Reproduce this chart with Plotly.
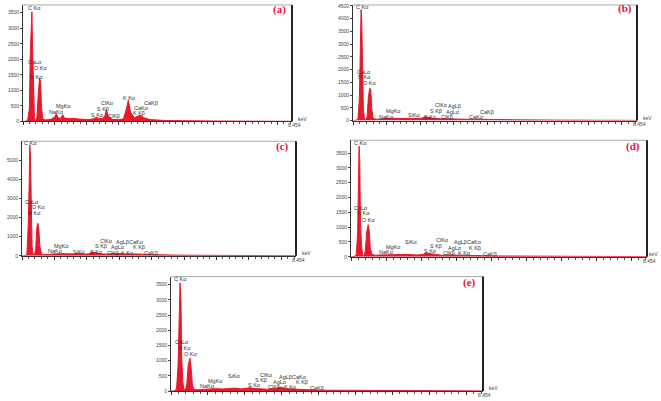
import plotly.graph_objects as go

W, H = 661, 401

# ---------------- data ----------------
energy_a = [0, 0.10, 0.15, 0.20, 0.23, 0.26, 0.28, 0.30, 0.33, 0.36, 0.40, 0.44, 0.48, 0.52, 0.55, 0.58, 0.62,
            0.70, 0.80, 0.90, 1.00, 1.05, 1.10, 1.18, 1.25, 1.30, 1.45, 1.60, 1.75, 1.90, 2.05, 2.20, 2.30,
            2.40, 2.50, 2.58, 2.62, 2.68, 2.80, 3.00, 3.15, 3.25, 3.31, 3.38, 3.50, 3.62, 3.70, 3.80, 4.00,
            4.50, 5.00, 6.00, 7.00, 8.454]
counts_a = [0, 10, 60, 400, 2250, 3300, 3530, 2400, 600, 100, 30, 150, 900, 1400, 1300, 500, 100,
            50, 60, 80, 150, 250, 120, 100, 220, 110, 90, 100, 80, 70, 60, 80, 130,
            100, 90, 200, 380, 180, 70, 60, 80, 400, 690, 300, 120, 180, 200, 120, 60,
            30, 20, 15, 10, 5]

energy_b = [0, 0.10, 0.15, 0.19, 0.22, 0.24, 0.26, 0.28, 0.31, 0.34, 0.38, 0.42, 0.46, 0.50, 0.53, 0.56, 0.60,
            0.70, 0.80, 1.00, 1.20, 1.40, 1.60, 1.75, 1.90, 2.05, 2.15, 2.25, 2.40, 2.60, 2.80, 3.00, 3.20,
            3.40, 3.70, 4.00, 5.00, 6.00, 7.00, 8.454]
counts_b = [0, 10, 80, 900, 2890, 4360, 3960, 1500, 400, 80, 30, 150, 950, 1270, 1200, 450, 80,
            50, 60, 70, 90, 80, 90, 100, 80, 90, 150, 120, 80, 70, 60, 70, 60,
            50, 50, 40, 25, 15, 10, 5]

energy_c = [0, 0.10, 0.15, 0.19, 0.22, 0.24, 0.26, 0.28, 0.31, 0.34, 0.38, 0.42, 0.46, 0.49, 0.52, 0.55, 0.60,
            0.70, 0.80, 1.00, 1.20, 1.40, 1.60, 1.75, 1.90, 2.05, 2.18, 2.30, 2.45, 2.60, 2.80, 3.00, 3.20,
            3.40, 3.60, 3.80, 4.00, 5.00, 6.00, 7.00, 8.454]
counts_c = [0, 10, 100, 1500, 3620, 5770, 5300, 2500, 500, 100, 40, 300, 1500, 1700, 1400, 500, 100,
            60, 80, 100, 110, 90, 100, 120, 90, 100, 200, 150, 100, 90, 110, 120, 100,
            110, 90, 80, 60, 30, 20, 15, 5]

energy_d = [0, 0.10, 0.15, 0.19, 0.21, 0.23, 0.25, 0.27, 0.30, 0.33, 0.37, 0.41, 0.45, 0.49, 0.52, 0.55, 0.60,
            0.70, 0.80, 1.00, 1.20, 1.40, 1.60, 1.75, 1.90, 2.05, 2.16, 2.28, 2.45, 2.60, 2.80, 3.00, 3.20,
            3.40, 3.70, 4.00, 5.00, 6.00, 7.00, 8.454]
counts_d = [0, 10, 80, 800, 2200, 3730, 3300, 1200, 400, 80, 30, 200, 850, 1080, 900, 300, 80,
            50, 60, 70, 80, 70, 80, 70, 60, 80, 130, 100, 60, 50, 60, 60, 50,
            50, 40, 30, 20, 15, 10, 5]

energy_e = [0, 0.10, 0.15, 0.19, 0.22, 0.245, 0.27, 0.29, 0.32, 0.35, 0.39, 0.43, 0.47, 0.515, 0.55, 0.58, 0.62,
            0.70, 0.80, 1.00, 1.20, 1.40, 1.60, 1.75, 1.90, 2.05, 2.14, 2.25, 2.45, 2.60, 2.80, 3.00, 3.10,
            3.30, 3.60, 4.00, 5.00, 6.00, 7.00, 8.454]
counts_e = [0, 10, 80, 800, 2300, 3560, 3000, 1100, 300, 60, 30, 250, 900, 1080, 700, 200, 60,
            40, 50, 70, 80, 70, 90, 100, 70, 80, 110, 90, 60, 60, 80, 130, 80,
            60, 50, 30, 20, 15, 10, 5]

labels_a = ["C Kα", "CaLα", "O Kα", "N Kα", "MgKα", "NaKα", "S Kα", "S Kβ", "ClKα", "ClKβ", "K Kα", "CaKα", "K Kβ", "CaKβ"]
label_e_a = [0.126, 0.126, 0.31, 0.19, 1.00, 0.79, 2.11, 2.29, 2.42, 2.64, 3.11, 3.46, 3.43, 3.77]
label_c_a = [3650, 1920, 1730, 1420, 500, 320, 210, 410, 590, 190, 760, 450, 270, 580]

labels_b = ["C Kα", "CaLα", "N Kα", "O Kα", "MgKα", "NaKα", "SiKα", "S Kα", "S Kβ", "ClKα", "AgLβ", "AgLα", "ClKβ", "CaKα", "CaKβ"]
label_e_b = [0.06, 0.09, 0.12, 0.27, 0.95, 0.74, 1.61, 2.08, 2.26, 2.41, 2.80, 2.74, 2.59, 3.42, 3.75]
label_c_b = [4450, 1925, 1700, 1460, 385, 150, 230, 150, 385, 590, 560, 350, 140, 150, 350]

labels_c = ["C Kα", "CaLα", "O Kα", "N Kα", "MgKα", "NaKα", "SiKα", "S Kα", "S Kβ", "ClKα", "AgLβCaKα", "AgLα", "K Kβ", "ClKβ", "K Kα", "CaKβ"]
label_e_c = [0.03, 0.06, 0.28, 0.15, 0.96, 0.77, 1.54, 2.07, 2.22, 2.38, 2.87, 2.71, 3.39, 2.59, 3.02, 3.73]
label_c_c = [5870, 2800, 2540, 2240, 530, 250, 210, 200, 520, 790, 730, 460, 460, 140, 140, 150]

labels_d = ["C Kα", "CaLα", "N Kα", "O Kα", "SiKα", "MgKα", "NaKα", "ClKα", "AgLβCaKα", "S Kβ", "AgLα", "K Kβ", "S Kα", "ClKβ", "K Kα", "CaKβ"]
label_e_d = [0.06, 0.06, 0.14, 0.29, 1.51, 0.97, 0.77, 2.40, 2.91, 2.23, 2.74, 3.34, 2.06, 2.60, 3.03, 3.74]
label_c_d = [3840, 1660, 1465, 1255, 510, 330, 160, 560, 490, 360, 310, 310, 190, 120, 120, 110]

labels_e = ["C Kα", "CaLα", "N Kα", "O Kα", "SiKα", "MgKα", "NaKα", "ClKα", "AgLβCaKα", "S Kβ", "AgLα", "K Kβ", "S Kα", "ClKβ", "K Kα", "CaKβ"]
label_e_e = [0.05, 0.08, 0.16, 0.33, 1.52, 0.98, 0.76, 2.38, 2.90, 2.25, 2.74, 3.36, 2.06, 2.60, 3.04, 3.74]
label_c_e = [3700, 1600, 1430, 1225, 490, 335, 160, 530, 460, 360, 300, 300, 190, 120, 120, 110]

panel_names = ["(a)", "(b)", "(c)", "(d)", "(e)"]
x_max = 8.454
y_max = [3750, 4540, 5980, 3930, 3770]
y_dtick = [500, 500, 1000, 500, 500]

# ---------------- layout geometry (pixels) ----------------
boxes = [(23, 292, 3, 121), (353, 637, 3, 120), (22, 296, 141, 257), (351, 647, 140, 258), (171, 483, 278, 394)]
panel_lab_pos = [(279, 8), (625, 7), (282, 146), (633, 146), (469, 284)]

spectra = [(energy_a, counts_a), (energy_b, counts_b), (energy_c, counts_c), (energy_d, counts_d), (energy_e, counts_e)]
peak_labels = [(labels_a, label_e_a, label_c_a), (labels_b, label_e_b, label_c_b), (labels_c, label_e_c, label_c_c),
               (labels_d, label_e_d, label_c_d), (labels_e, label_e_e, label_c_e)]

RED = "#e8192c"
FONT = "Liberation Sans"

fig = go.Figure()
annotations = []
shapes = []
layout = {}

for i in range(5):
    n = "" if i == 0 else str(i + 1)
    xa, ya = "x" + n, "y" + n
    l, r, t, b = boxes[i]
    ex, cy = spectra[i]
    fig.add_trace(go.Scatter(x=ex, y=cy, xaxis=xa, yaxis=ya, mode="lines",
                             line=dict(color=RED, width=1), fill="tozeroy", fillcolor=RED,
                             showlegend=False, hoverinfo="x+y"))
    layout["xaxis" + n] = dict(domain=[l / W, r / W], anchor=ya, range=[0, x_max],
                               showline=True, linecolor="#333", linewidth=1, showgrid=False, zeroline=False,
                               ticks="outside", ticklen=3, tickcolor="#333", dtick=1, tick0=0,
                               showticklabels=False,
                               minor=dict(dtick=0.2, ticks="outside", ticklen=2, tickcolor="#555", showgrid=False))
    layout["yaxis" + n] = dict(domain=[1 - b / H, 1 - t / H], anchor=xa, range=[0, y_max[i]],
                               showline=True, linecolor="#333", linewidth=1, showgrid=False, zeroline=False,
                               ticks="outside", ticklen=2, tickcolor="#444", dtick=y_dtick[i], tick0=0,
                               tickfont=dict(family=FONT, size=5, color="#444"), ticklabelstandoff=0)
    shapes.append(dict(type="line", xref=xa + " domain", yref=ya + " domain", x0=0, x1=1, y0=1, y1=1,
                       line=dict(color="#aaa", width=1)))
    shapes.append(dict(type="line", xref=xa + " domain", yref=ya + " domain", x0=1, x1=1, y0=0, y1=1,
                       line=dict(color="#222", width=2)))
    txts, pe, pc = peak_labels[i]
    for s, xe, yc in zip(txts, pe, pc):
        annotations.append(dict(x=xe, y=yc, xref=xa, yref=ya, text=s, showarrow=False,
                                xanchor="left", yanchor="middle", borderpad=0,
                                font=dict(family=FONT, size=5.5, color="#333")))
    px, py = panel_lab_pos[i]
    annotations.append(dict(x=px / W, y=1 - py / H, xref="paper", yref="paper", text="<b>%s</b>" % panel_names[i],
                            showarrow=False, xanchor="center", yanchor="middle",
                            font=dict(family="Liberation Serif", size=11, color="#ee1133")))
    kev_x = min(r + 5, W - 13)
    annotations.append(dict(x=kev_x / W, y=1 - (b - 3) / H, xref="paper", yref="paper", text="keV",
                            showarrow=False, xanchor="left", yanchor="middle", borderpad=0,
                            font=dict(family=FONT, size=5, color="#444")))
    annotations.append(dict(x=(r + 2) / W, y=1 - (b + 4) / H, xref="paper", yref="paper", text="%.3f" % x_max,
                            showarrow=False, xanchor="center", yanchor="middle", borderpad=0,
                            font=dict(family=FONT, size=5, color="#444")))

fig.update_layout(width=W, height=H, margin=dict(l=0, r=0, t=0, b=0),
                  paper_bgcolor="white", plot_bgcolor="white",
                  annotations=annotations, shapes=shapes, **layout)

fig.write_html("out.html")
